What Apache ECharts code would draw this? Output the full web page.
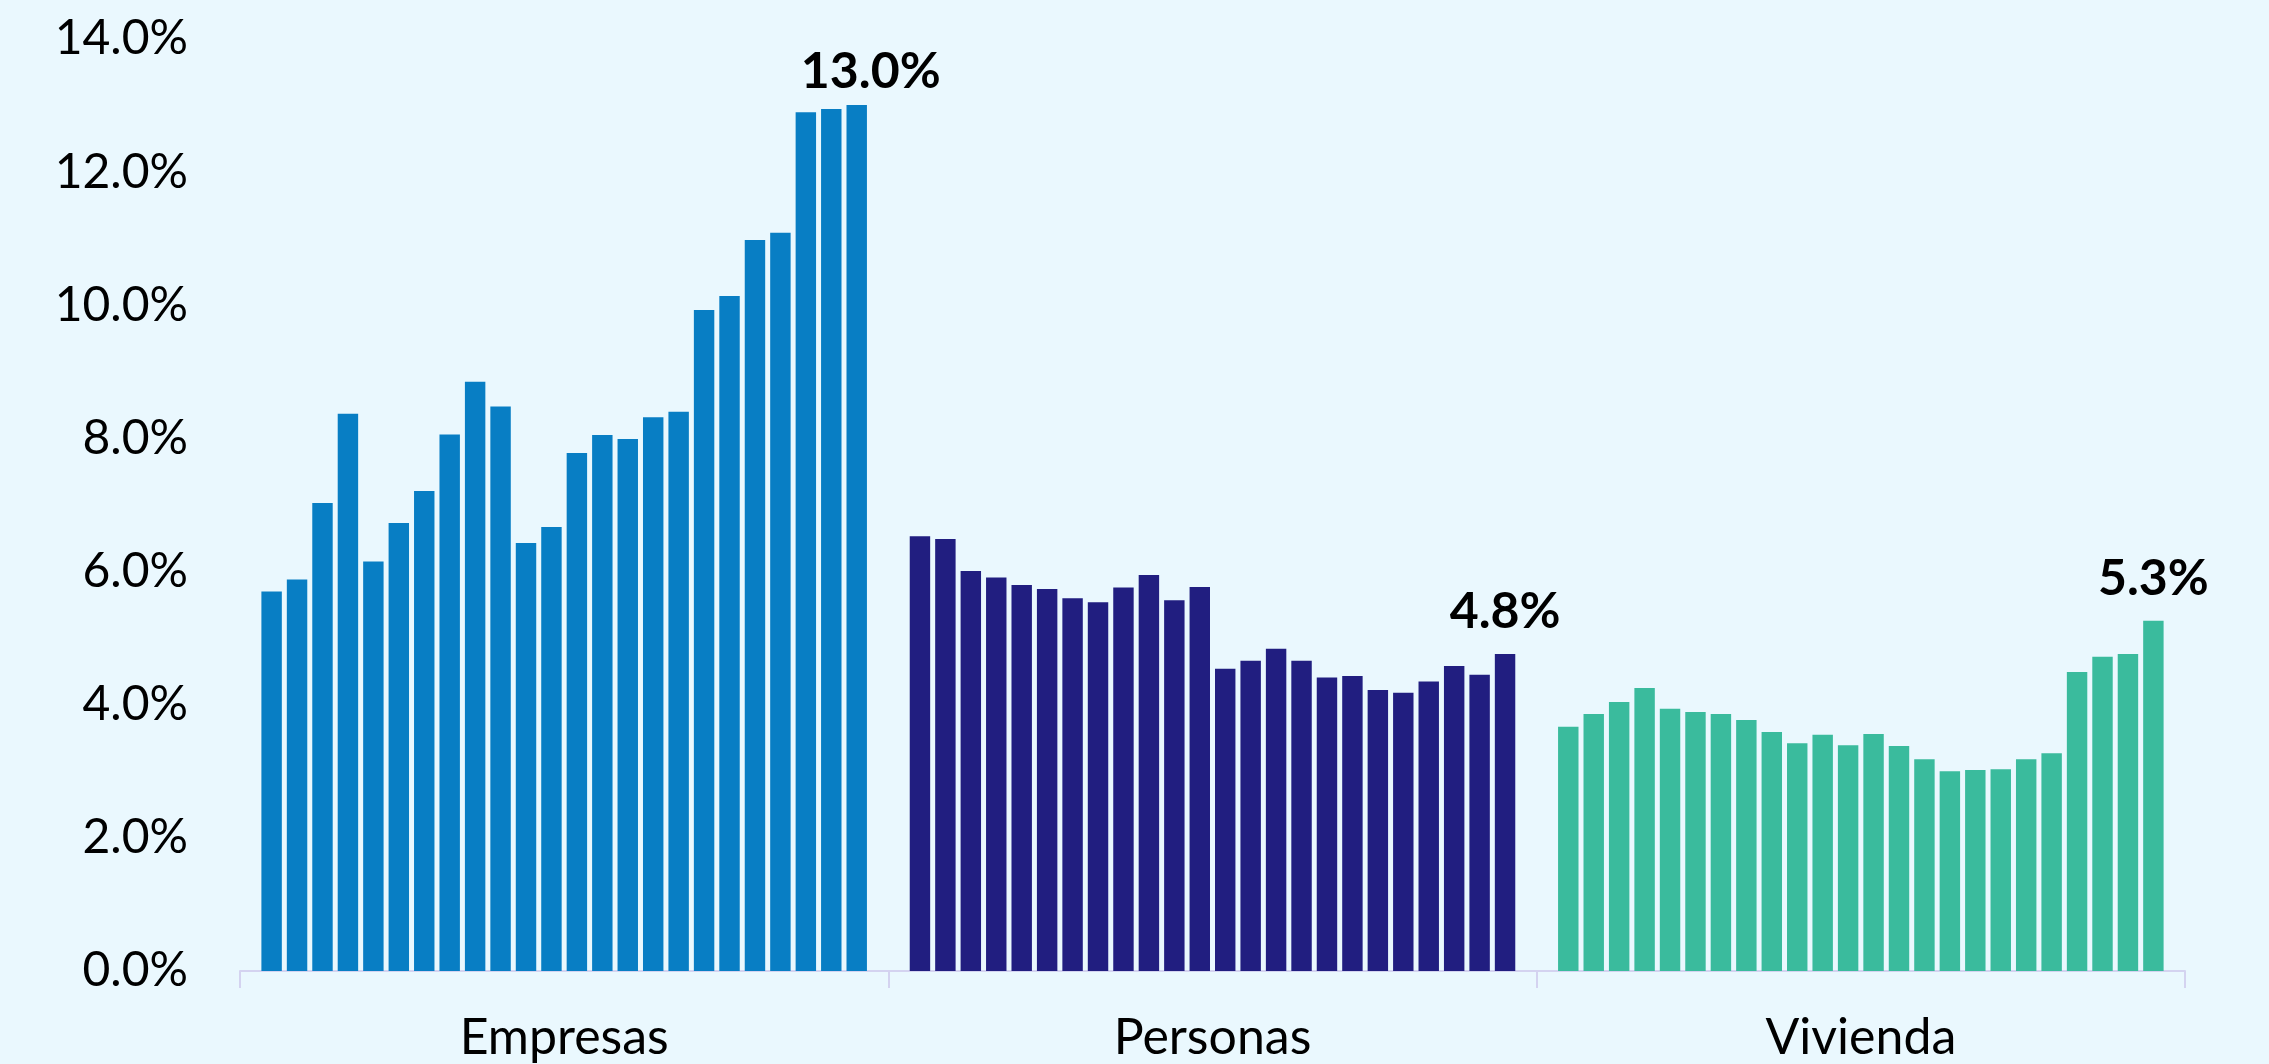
<!DOCTYPE html>
<html>
<head>
<meta charset="utf-8">
<script src="https://cdn.jsdelivr.net/npm/echarts@6/dist/echarts.min.js"></script>
<style>
html,body{margin:0;padding:0;background:#EAF8FE;}
#chart{width:2269px;height:1064px;}
</style>
</head>
<body>
<div id="chart"></div>
<script>
const categories = ['Empresas', 'Personas', 'Vivienda'];
const empresas = [5.70, 5.88, 7.03, 8.37, 6.15, 6.73, 7.21, 8.06, 8.85, 8.48, 6.43, 6.67, 7.78, 8.05, 7.99, 8.32, 8.40, 9.93, 10.14, 10.98, 11.09, 12.90, 12.95, 13.01];
const personas = [6.53, 6.49, 6.01, 5.91, 5.80, 5.74, 5.60, 5.54, 5.76, 5.95, 5.57, 5.77, 4.54, 4.66, 4.84, 4.66, 4.41, 4.43, 4.22, 4.18, 4.35, 4.58, 4.45, 4.76];
const vivienda = [3.67, 3.86, 4.04, 4.25, 3.94, 3.89, 3.86, 3.77, 3.59, 3.42, 3.55, 3.39, 3.56, 3.38, 3.18, 3.00, 3.02, 3.03, 3.18, 3.27, 4.49, 4.72, 4.76, 5.26];
const yTicks = [0, 2, 4, 6, 8, 10, 12, 14];
const groupColors = ['#087EC4', '#211E80', '#3ABB9D'];
const FONT = 'Lato';

const groups = [empresas, personas, vivienda];
const n = empresas.length;
const series = [];
for (let i = 0; i < n; i++) {
  const isLast = i === n - 1;
  series.push({
    type: 'bar',
    barCategoryGap: '6.6%',
    barGap: '24.5%',
    data: groups.map((g, ci) => {
      const d = { value: g[i], itemStyle: { color: groupColors[ci] } };
      if (isLast) {
        d.label = {
          show: true,
          position: 'top',
          distance: ci === 0 ? 8 : 17,
          offset: ci === 0 ? [14, 0] : [0, 0],
          formatter: (p) => p.value.toFixed(1) + '%',
          fontFamily: FONT,
          fontWeight: 'bold',
          fontSize: 50,
          color: '#000'
        };
      }
      return d;
    })
  });
}

const chart = echarts.init(document.getElementById('chart'));
chart.setOption({
  backgroundColor: '#EAF8FE',
  animation: false,
  grid: { left: 240, right: 84, top: 39, bottom: 93 },
  xAxis: {
    type: 'category',
    data: categories,
    axisLine: { show: true, lineStyle: { color: '#D4D3F0', width: 2 } },
    axisTick: { show: true, length: 17, alignWithLabel: false, lineStyle: { color: '#D4D3F0', width: 2 } },
    axisLabel: { margin: 42, fontFamily: FONT, fontSize: 50, color: '#000' }
  },
  yAxis: {
    type: 'value',
    min: yTicks[0],
    max: yTicks[yTicks.length - 1],
    interval: 2,
    splitLine: { show: false },
    axisLine: { show: false },
    axisTick: { show: false },
    axisLabel: {
      margin: 52,
      fontFamily: FONT,
      fontSize: 48,
      color: '#000',
      formatter: (v) => v.toFixed(1) + '%'
    }
  },
  series: series
});
</script>
</body>
</html>
